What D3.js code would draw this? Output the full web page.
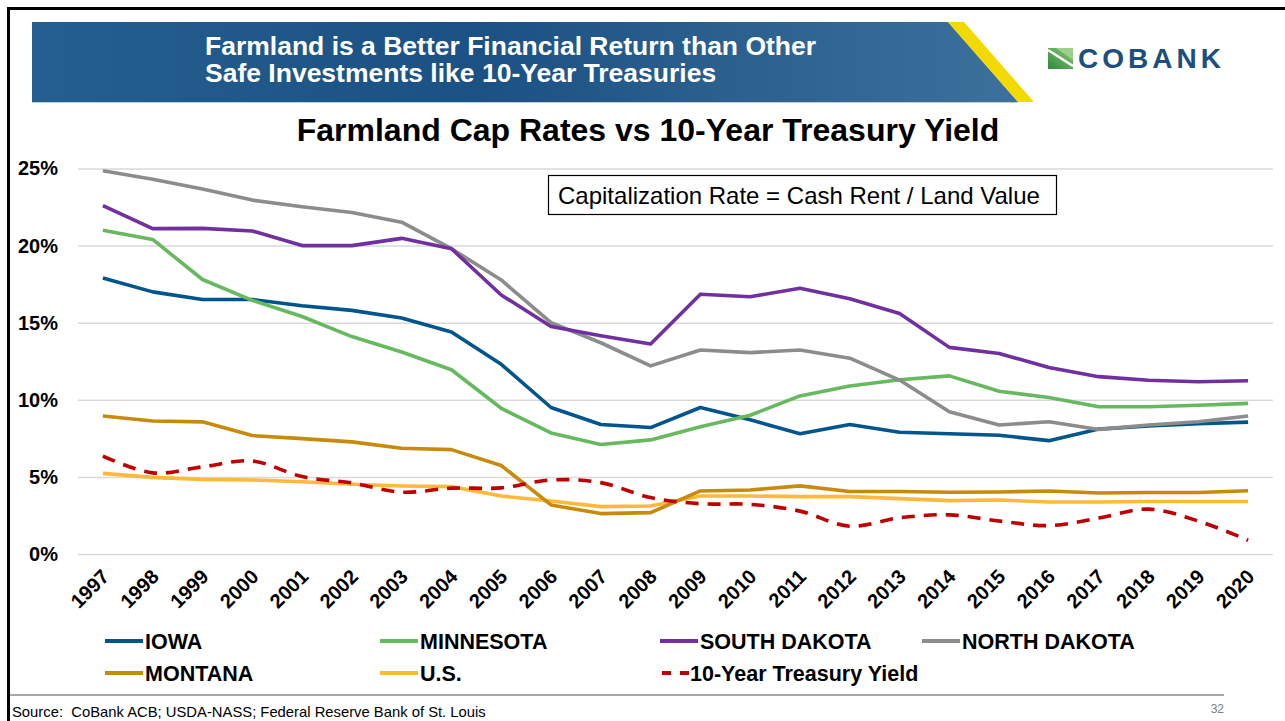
<!DOCTYPE html>
<html>
<head>
<meta charset="utf-8">
<script src="https://cdn.jsdelivr.net/npm/d3@7"></script>
<style>
  html, body { margin: 0; padding: 0; background: #fff; }
  svg { display: block; font-family: "Liberation Sans", Arial, sans-serif; }
</style>
</head>
<body>
<svg id="chart" width="1285" height="721"></svg>
<script>
// ---------- DATA ----------
const years = [1997,1998,1999,2000,2001,2002,2003,2004,2005,2006,2007,2008,2009,2010,2011,2012,2013,2014,2015,2016,2017,2018,2019,2020];
const iowa        = [17.9,17.0,16.5,16.5,16.1,15.8,15.3,14.4,12.3,9.5,8.4,8.2,9.5,8.7,7.8,8.4,7.9,7.8,7.7,7.35,8.1,8.3,8.45,8.55];
const minnesota   = [21.0,20.4,17.8,16.45,15.4,14.1,13.1,11.95,9.45,7.85,7.1,7.4,8.25,9.0,10.25,10.9,11.3,11.55,10.55,10.15,9.55,9.55,9.65,9.77];
const southDakota = [22.6,21.1,21.12,20.95,20.0,20.0,20.47,19.8,16.8,14.75,14.15,13.62,16.85,16.68,17.23,16.55,15.6,13.4,13.0,12.1,11.5,11.27,11.17,11.24];
const northDakota = [24.85,24.3,23.67,22.95,22.52,22.15,21.52,19.8,17.77,15.0,13.7,12.2,13.23,13.06,13.23,12.7,11.28,9.23,8.37,8.58,8.08,8.37,8.58,8.95];
const montana     = [8.95,8.63,8.57,7.68,7.48,7.27,6.86,6.77,5.74,3.18,2.62,2.68,4.09,4.15,4.42,4.05,4.05,4.0,4.02,4.09,3.96,3.99,3.99,4.1];
const us          = [5.23,4.97,4.84,4.8,4.69,4.52,4.41,4.37,3.76,3.44,3.07,3.11,3.76,3.76,3.72,3.72,3.59,3.46,3.5,3.37,3.37,3.4,3.4,3.4];
const treasury    = [6.35,5.26,5.65,6.03,5.02,4.61,4.01,4.27,4.29,4.80,4.63,3.66,3.26,3.22,2.78,1.80,2.35,2.54,2.14,1.84,2.33,2.91,2.14,0.89];
const yTicks = [0,5,10,15,20,25];

const seriesNames  = ["IOWA","MINNESOTA","SOUTH DAKOTA","NORTH DAKOTA","MONTANA","U.S.","10-Year Treasury Yield"];
const seriesValues = [iowa, minnesota, southDakota, northDakota, montana, us, treasury];
const seriesColors = ["#00558c","#66b95f","#7030a0","#8c8c8c","#c88a0a","#ffb83a","#c00000"];
const seriesDashed = [false,false,false,false,false,false,true];

const bannerLines = ["Farmland is a Better Financial Return than Other","Safe Investments like 10-Year Treasuries"];
const chartTitle = "Farmland Cap Rates vs 10-Year Treasury Yield";
const noteText = "Capitalization Rate = Cash Rent / Land Value";
const sourceText = "Source:\u00a0\u00a0CoBank ACB; USDA-NASS; Federal Reserve Bank of St. Louis";
const pageNumber = "32";

// ---------- DRAW ----------
const svg = d3.select("#chart");
const defs = svg.append("defs");

// frame
svg.append("line").attr("x1",8).attr("x2",1285).attr("y1",8.5).attr("y2",8.5).attr("stroke","#000").attr("stroke-width",3);
svg.append("line").attr("x1",8.5).attr("x2",8.5).attr("y1",7).attr("y2",721).attr("stroke","#000").attr("stroke-width",3);

// banner
const bg = defs.append("linearGradient").attr("id","bannerGrad").attr("x1","0%").attr("x2","100%").attr("y1","0%").attr("y2","0%");
bg.append("stop").attr("offset","0%").attr("stop-color","#245f8f");
bg.append("stop").attr("offset","45%").attr("stop-color","#1b5183");
bg.append("stop").attr("offset","100%").attr("stop-color","#3d719c");
svg.append("path").attr("d","M32,22 L948,22 L1018,102 L32,102 Z").attr("fill","url(#bannerGrad)");
svg.append("path").attr("d","M948,22 L964,22 L1034,102 L1018,102 Z").attr("fill","#f2d900");
svg.append("line").attr("x1",32).attr("x2",1018).attr("y1",102.5).attr("y2",102.5).attr("stroke","#b9cde0").attr("stroke-width",1);

svg.append("g").selectAll("text").data(bannerLines).join("text")
  .attr("x",205).attr("y",(d,i)=>55+i*27)
  .attr("fill","#fff").attr("font-weight","bold").attr("font-size",26.5)
  .text(d=>d);

// logo
const lg = defs.append("linearGradient").attr("id","logoGrad").attr("x1","0%").attr("x2","100%").attr("y1","100%").attr("y2","0%");
lg.append("stop").attr("offset","0%").attr("stop-color","#2e8a3a");
lg.append("stop").attr("offset","100%").attr("stop-color","#8cc878");
svg.append("rect").attr("x",1048).attr("y",48).attr("width",25).attr("height",21).attr("fill","url(#logoGrad)");
svg.append("path").attr("d","M1048,50 L1073,66").attr("stroke","#fff").attr("stroke-width",2.5);
svg.append("path").attr("d","M1056,48 L1073,48 L1073,60 Z").attr("fill","#9bd08a");
svg.append("text").attr("x",1078).attr("y",68).attr("fill","#1c4f7d")
  .attr("font-size",28).attr("font-weight","bold").attr("letter-spacing",1)
  .attr("textLength",144).attr("lengthAdjust","spacing")
  .text("COBANK");

// chart title
svg.append("text").attr("x",648).attr("y",141).attr("text-anchor","middle")
  .attr("font-weight","bold").attr("font-size",32).attr("fill","#000").text(chartTitle);

// scales
const x = d3.scalePoint().domain(years).range([78,1273]).padding(0.5);
const y = d3.scaleLinear().domain([0,25]).range([554,168.5]);

// y axis with gridlines
const yAxis = svg.append("g").attr("transform","translate(78,0)")
  .call(d3.axisLeft(y).tickValues(yTicks).tickSize(-(1273-78)).tickPadding(20).tickFormat(d=>d+"%"));
yAxis.select(".domain").remove();
yAxis.selectAll(".tick line").attr("stroke","#d9d9d9").attr("stroke-width",1.5);
yAxis.selectAll(".tick text").attr("font-size",20).attr("font-weight","bold").attr("fill","#000")
  .attr("font-family","'Liberation Sans', Arial, sans-serif");

// x axis
const xAxis = svg.append("g").attr("transform","translate(0,554)")
  .call(d3.axisBottom(x).tickSize(0).tickPadding(0));
xAxis.select(".domain").remove();
xAxis.selectAll(".tick text")
  .attr("font-size",20).attr("font-weight","bold").attr("fill","#000")
  .attr("font-family","'Liberation Sans', Arial, sans-serif")
  .attr("text-anchor","end").attr("dy",null)
  .attr("transform","translate(7,24) rotate(-45)");

// note box
svg.append("rect").attr("x",548.5).attr("y",175.5).attr("width",508).attr("height",39)
  .attr("fill","#fff").attr("stroke","#000").attr("stroke-width",1.2);
svg.append("text").attr("x",558).attr("y",204).attr("font-size",24).attr("fill","#000").text(noteText);

// lines
const lineStraight = d3.line().x((d,i)=>x(years[i])).y(d=>y(d));
const lineSmooth = d3.line().x((d,i)=>x(years[i])).y(d=>y(d)).curve(d3.curveCatmullRom.alpha(0.5));
const order = [5,4,6,0,1,3,2];
svg.append("g").selectAll("path").data(order).join("path")
  .attr("d", k => (seriesDashed[k] ? lineSmooth : lineStraight)(seriesValues[k]))
  .attr("fill","none")
  .attr("stroke", k => seriesColors[k])
  .attr("stroke-width", 3.6)
  .attr("stroke-linejoin","round")
  .attr("stroke-dasharray", k => seriesDashed[k] ? "13,9" : null);

// legend
const legendPos = [[105,641],[380,641],[660,641],[922,641],[105,673],[380,673],[660,673]];
const leg = svg.append("g").selectAll("g").data(seriesNames).join("g")
  .attr("transform",(d,i)=>`translate(${legendPos[i][0]},${legendPos[i][1]})`);
leg.append("line").attr("x1",0).attr("x2",38).attr("y1",0).attr("y2",0)
  .attr("stroke",(d,i)=>seriesColors[i]).attr("stroke-width",4)
  .attr("stroke-dasharray",(d,i)=>seriesDashed[i] ? "9,9" : null)
  .attr("stroke-dashoffset",(d,i)=>seriesDashed[i] ? -2 : null);
leg.append("text").attr("x",(d,i)=>seriesDashed[i] ? 30 : 40).attr("y",7.5)
  .attr("font-size",21.5).attr("font-weight","bold").attr("fill","#000").text(d=>d);

// footer
svg.append("line").attr("x1",10).attr("x2",1224).attr("y1",695).attr("y2",695).attr("stroke","#a6a6a6").attr("stroke-width",2);
svg.append("text").attr("x",12).attr("y",717).attr("font-size",14.8).attr("fill","#000").text(sourceText);
svg.append("text").attr("x",1224).attr("y",713).attr("text-anchor","end").attr("font-size",12).attr("fill","#808080").text(pageNumber);
</script>
</body>
</html>
